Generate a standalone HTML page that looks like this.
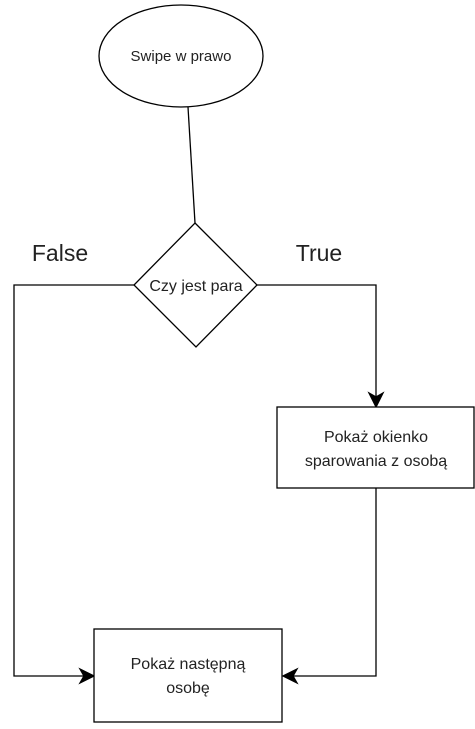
<!DOCTYPE html>
<html><head><style>body{margin:0;background:#fff}</style></head><body>
<svg width="475" height="724" xmlns="http://www.w3.org/2000/svg" font-family="Liberation Sans, Arial, sans-serif" fill="none" stroke="#000" stroke-width="1.3">
<ellipse cx="181" cy="56" rx="82" ry="51" fill="#fff"/>
<text x="181" y="61" font-size="15" fill="#222" stroke="none" text-anchor="middle">Swipe w prawo</text>
<path d="M188 107 L195 223"/>
<polygon points="195,223 257,285 196,347 134,285" fill="#fff"/>
<text x="196" y="291" font-size="16" fill="#222" stroke="none" text-anchor="middle">Czy jest para</text>
<text x="60" y="261" font-size="23" fill="#222" stroke="none" text-anchor="middle">False</text>
<text x="319" y="261" font-size="23" fill="#222" stroke="none" text-anchor="middle">True</text>
<path d="M134 285 H14 V676 H88"/>
<polygon points="94,676 80,669 84,676 80,683" fill="#000"/>
<path d="M257 285 H376 V400"/>
<polygon points="376,407 369,393 376,397 383,393" fill="#000"/>
<rect x="277" y="407" width="197" height="81" fill="#fff"/>
<text x="376" y="442" font-size="16" fill="#222" stroke="none" text-anchor="middle">Pokaż okienko</text>
<text x="376" y="466" font-size="16" fill="#222" stroke="none" text-anchor="middle">sparowania z osobą</text>
<path d="M376 488 V676 H289"/>
<polygon points="283,676 297,669 293,676 297,683" fill="#000"/>
<rect x="94" y="629" width="188" height="93" fill="#fff"/>
<text x="188" y="669" font-size="16" fill="#222" stroke="none" text-anchor="middle">Pokaż następną</text>
<text x="188" y="693" font-size="16" fill="#222" stroke="none" text-anchor="middle">osobę</text>
</svg>
</body></html>
